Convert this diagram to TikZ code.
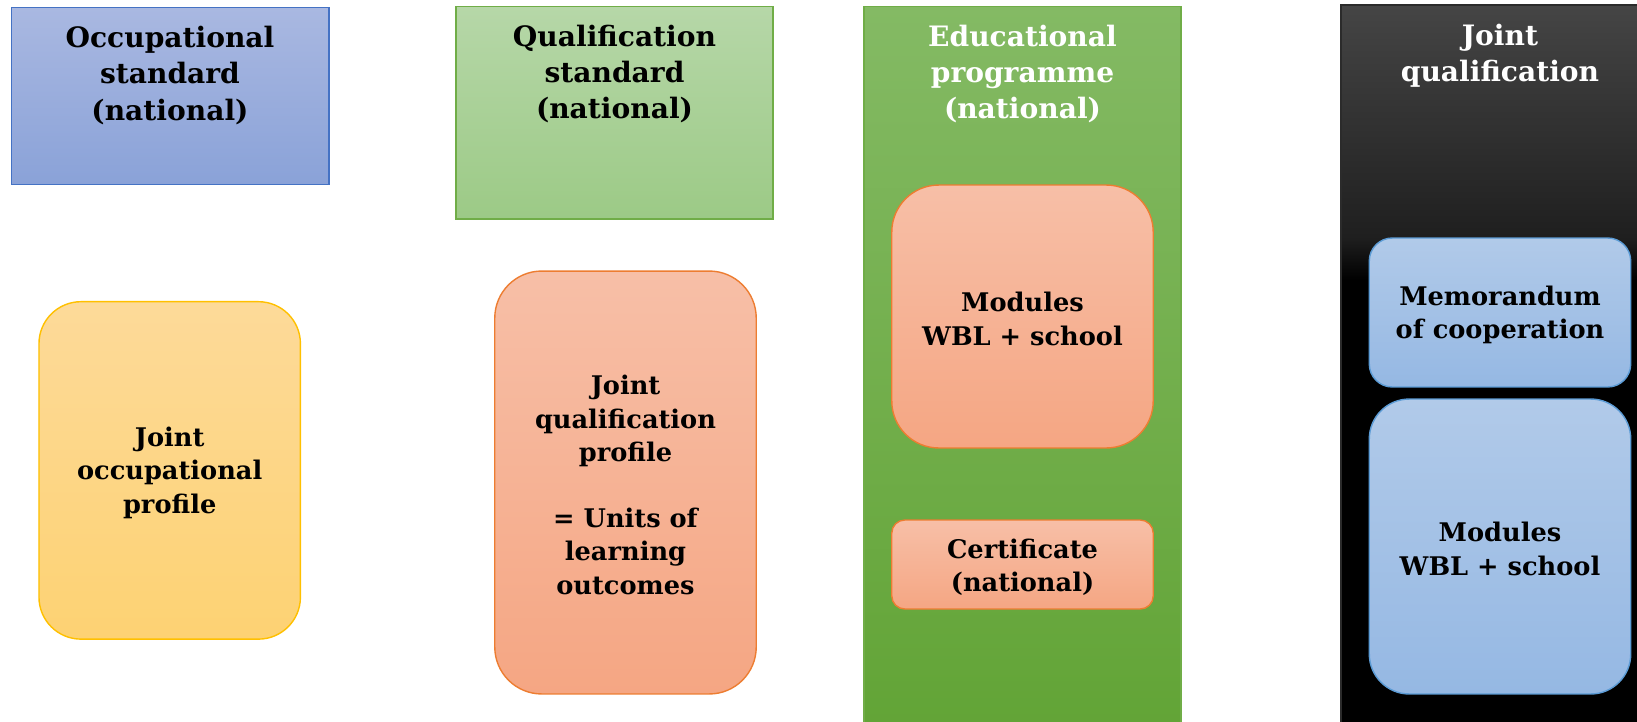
\documentclass[tikz,border=0pt]{standalone}
\usepackage{fontspec}
\setmainfont{DejaVu Serif}
\usepackage{xcolor}
\usepackage{tikz}
\definecolor{occtop}{HTML}{A9B8E1}
\definecolor{occbot}{HTML}{8AA2D8}
\definecolor{occline}{HTML}{4472C4}
\definecolor{qualtop}{HTML}{B6D7A8}
\definecolor{qualbot}{HTML}{9CCA86}
\definecolor{edutop}{HTML}{84BA64}
\definecolor{edubot}{HTML}{62A436}
\definecolor{greenline}{HTML}{70AD47}
\definecolor{jtop}{HTML}{454545}
\definecolor{jmid}{HTML}{1F1F1F}
\definecolor{jline}{HTML}{2B2B2B}
\definecolor{yeltop}{HTML}{FDDA99}
\definecolor{yelbot}{HTML}{FDD273}
\definecolor{yelline}{HTML}{FFC000}
\definecolor{orgtop}{HTML}{F7BFA7}
\definecolor{orgbot}{HTML}{F5A683}
\definecolor{orgline}{HTML}{ED7D31}
\definecolor{bluetop}{HTML}{B1CAE9}
\definecolor{bluebot}{HTML}{95B8E3}
\definecolor{blueline}{HTML}{5B9BD5}
\pgfdeclareverticalshading{jointfade}{100bp}{color(0bp)=(black); color(56bp)=(black); color(59bp)=(jmid); color(75bp)=(jtop); color(100bp)=(jtop)}
\tikzset{
  panel/.style={rectangle, inner sep=0pt, line width=0.8pt},
  card/.style={rectangle, inner sep=0pt, line width=0.8pt, minimum width=5.23cm},
  yelcard/.style={card, top color=yeltop, bottom color=yelbot, draw=yelline},
  orgcard/.style={card, top color=orgtop, bottom color=orgbot, draw=orgline},
  bluecard/.style={card, top color=bluetop, bottom color=bluebot, draw=blueline},
  head/.style={align=center, yshift=-0.06cm, font=\fontsize{16}{20.6}\selectfont\bfseries},
  body/.style={align=center, yshift=-0.05cm, font=\fontsize{14.6}{18.9}\selectfont\bfseries},
}
\begin{document}
\begin{tikzpicture}[x=0.02cm, y=-0.02cm]
  \useasboundingbox (0,0) rectangle (1637,721);
  % column panels
  \node[panel, top color=occtop, bottom color=occbot, draw=occline,
    minimum width=6.35cm, minimum height=3.54cm] (occbox) at (170.3,95.9) {};
  \node[panel, top color=qualtop, bottom color=qualbot, draw=greenline,
    minimum width=6.34cm, minimum height=4.25cm] (qualbox) at (614.5,112.6) {};
  \node[panel, top color=edutop, bottom color=edubot, draw=greenline,
    minimum width=6.34cm, minimum height=14.47cm] (edubox) at (1022.5,368) {};
  \node[panel, shade, shading=jointfade, draw=jline,
    minimum width=6.08cm, minimum height=14.5cm] (jointbox) at (1493,367.5) {};
  % titles
  \node[head] (occtitle) at (170,72.5) {Occupational\\standard\\(national)};
  \node[head] (qualtitle) at (614.5,71) {Qualification\\standard\\(national)};
  \node[head, text=white] (edutitle) at (1022.5,71) {Educational\\programme\\(national)};
  \node[head, text=white] (jointtitle) at (1500,52.5) {Joint\\qualification};
  % inner cards
  \node[yelcard, rounded corners=0.84cm, minimum height=6.75cm] (profile) at (169.7,470.4) {};
  \node[body] at (profile) {Joint\\occupational\\profile};
  \node[orgcard, rounded corners=0.94cm, minimum height=8.46cm] (qprofile) at (625.5,482.5) {};
  \node[body] at (qprofile) {Joint\\qualification\\profile\\[18.9pt]= Units of\\learning\\outcomes};
  \node[orgcard, rounded corners=0.94cm, minimum height=5.26cm] (edumod) at (1022.5,316.5) {};
  \node[body] at (edumod) {Modules\\WBL + school};
  \node[orgcard, rounded corners=0.26cm, minimum height=1.78cm] (cert) at (1022.5,564.5) {};
  \node[body] at (cert) {Certificate\\(national)};
  \node[bluecard, rounded corners=0.46cm, minimum height=2.98cm] (memo) at (1500,312.5) {};
  \node[body] at (memo) {Memorandum\\of cooperation};
  \node[bluecard, rounded corners=0.8cm, minimum height=5.9cm] (jointmod) at (1500,546.5) {};
  \node[body] at (jointmod) {Modules\\WBL + school};
\end{tikzpicture}
\end{document}
